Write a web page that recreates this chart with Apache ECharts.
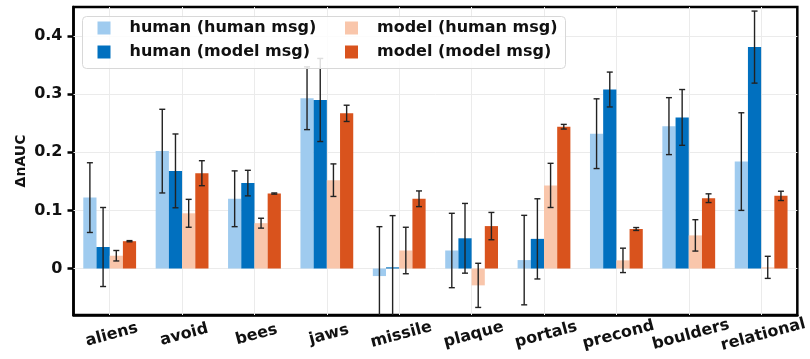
<!DOCTYPE html>
<html>
<head>
<meta charset="utf-8">
<script src="https://cdn.jsdelivr.net/npm/echarts@6/dist/echarts.min.js"></script>
<style>
html,body{margin:0;padding:0;background:#fff;}
#c{width:810px;height:359px;}
</style>
</head>
<body>
<div id="c"></div>
<script>
const categories = ['aliens','avoid','bees','jaws','missile','plaque','portals','precond','boulders','relational'];
const seriesNames = ['human (human msg)','human (model msg)','model (human msg)','model (model msg)'];
const humanHumanMean = [0.122,0.202,0.120,0.293,-0.013,0.031,0.0145,0.232,0.245,0.184];
const humanHumanErr  = [0.060,0.072,0.048,0.054,0.085,0.064,0.077,0.060,0.049,0.084];
const humanModelMean = [0.037,0.168,0.147,0.290,0.002,0.052,0.051,0.308,0.260,0.381];
const humanModelErr  = [0.068,0.0635,0.022,0.0715,0.089,0.060,0.069,0.030,0.048,0.062];
const modelHumanMean = [0.022,0.095,0.078,0.152,0.031,-0.029,0.143,0.014,0.057,0.002];
const modelHumanErr  = [0.009,0.024,0.0085,0.028,0.040,0.038,0.038,0.021,0.027,0.019];
const modelModelMean = [0.047,0.164,0.129,0.267,0.120,0.073,0.244,0.068,0.121,0.125];
const modelModelErr  = [0.001,0.0215,0.001,0.014,0.0135,0.0235,0.004,0.0025,0.0075,0.008];
const yTicks = [0,0.1,0.2,0.3,0.4];
const yMin = -0.08, yMax = 0.45;

const colors = ['#9fcbef','#0170bf','#f9c6ab','#d9531d'];
const means = [humanHumanMean, humanModelMean, modelHumanMean, modelModelMean];
const errs = [humanHumanErr, humanModelErr, modelHumanErr, modelModelErr];
const BW = 13.2;
const FONT = 'DejaVu Sans';

const chart = echarts.init(document.getElementById('c'));
const series = [];
series.push({
  type:'line', name:'grid', data:[], silent:true, z:1,
  markLine:{
    silent:true, symbol:['none','none'], z:1, animation:false,
    label:{show:false},
    lineStyle:{color:'#ebebeb', width:1, type:'solid'},
    data: categories.map(c=>({xAxis:c})).concat(yTicks.map(v=>({yAxis:v})))
  }
});
for (let i=0;i<4;i++){
  series.push({
    type:'bar', name:seriesNames[i], data:means[i], barWidth:BW, barGap:'0%',
    itemStyle:{color:colors[i]}, z:2, animation:false
  });
}
for (let i=0;i<4;i++){
  const off = (i-1.5)*BW;
  series.push({
    type:'custom', name:'err'+i, z:5, animation:false, silent:true,
    data: means[i].map((m,k)=>[k,m,errs[i][k]]),
    encode:{x:0,y:1},
    renderItem:function(params, api){
      const k = api.value(0), m = api.value(1), e = api.value(2);
      const x = api.coord([k,0])[0] + off;
      const cs = params.coordSys;
      const clampY = y => Math.max(cs.y, Math.min(cs.y+cs.height, y));
      const yHiRaw = api.coord([k,m+e])[1];
      const yLoRaw = api.coord([k,m-e])[1];
      const yHi = clampY(yHiRaw), yLo = clampY(yLoRaw);
      const st = {stroke:'#222', lineWidth:1.4};
      const children = [{type:'line', shape:{x1:x,y1:yHi,x2:x,y2:yLo}, style:st}];
      if (yHiRaw >= cs.y && yHiRaw <= cs.y+cs.height) children.push({type:'line', shape:{x1:x-3,y1:yHi,x2:x+3,y2:yHi}, style:st});
      if (yLoRaw >= cs.y && yLoRaw <= cs.y+cs.height) children.push({type:'line', shape:{x1:x-3,y1:yLo,x2:x+3,y2:yLo}, style:st});
      return {type:'group', children};
    }
  });
}

const legendCommon = {
  orient:'vertical', icon:'rect', itemWidth:13, itemHeight:13, itemGap:8, padding:0,
  selectedMode:false, top:20, z:10,
  textStyle:{fontFamily:FONT, fontWeight:'bold', fontSize:16, color:'#111', lineHeight:16, padding:[0,0,0,14]}
};

chart.setOption({
  animation:false,
  textStyle:{fontFamily:FONT},
  grid:{left:73.5, right:10.5, top:7, bottom:44, show:true, borderColor:'#000', borderWidth:2.5, backgroundColor:'transparent'},
  legend:[
    Object.assign({}, legendCommon, {left:97.5, data:[seriesNames[0], seriesNames[1]]}),
    Object.assign({}, legendCommon, {left:345, data:[seriesNames[2], seriesNames[3]]})
  ],
  graphic:[{
    type:'rect', z:8, left:82, top:16, silent:true,
    shape:{width:483, height:52, r:4},
    style:{fill:'rgba(255,255,255,0.85)', stroke:'#d8d8d8', lineWidth:1}
  }],
  xAxis:{
    type:'category', data:categories,
    axisLine:{onZero:false, lineStyle:{color:'#000', width:2.5}},
    axisTick:{alignWithLabel:true, length:6, lineStyle:{color:'#000', width:2.5}},
    axisLabel:{rotate:15, margin:12, align:'center', verticalAlign:'top', fontFamily:FONT, fontWeight:'bold', fontSize:16, color:'#111', interval:0},
    splitLine:{show:false}
  },
  yAxis:{
    type:'value', min:yMin, max:yMax,
    name:'ΔnAUC', nameLocation:'middle', nameGap:45, nameMoveOverlap:false,
    nameTextStyle:{fontFamily:FONT, fontWeight:'bold', fontSize:14, color:'#111'},
    axisLine:{show:true, lineStyle:{color:'#000', width:2.5}},
    axisTick:{show:true, length:6, customValues:yTicks, lineStyle:{color:'#000', width:2.5}},
    axisLabel:{customValues:yTicks, margin:11, fontFamily:FONT, fontWeight:'bold', fontSize:16, color:'#111',
      formatter:v=> (Math.abs(v)<1e-9 ? '0' : v.toFixed(1))},
    splitLine:{show:false}
  },
  series:series
});
</script>
</body>
</html>
